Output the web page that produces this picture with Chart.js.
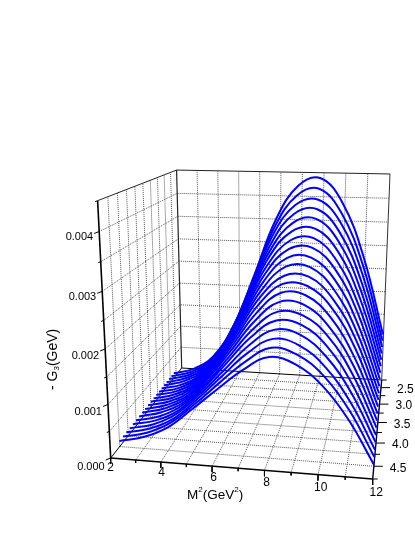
<!DOCTYPE html>
<html>
<head>
<meta charset="utf-8">
<title>G3 surface</title>
<script src="https://cdn.jsdelivr.net/npm/chart.js@4"></script>
<style>
html, body { margin: 0; padding: 0; background: #fff; }
canvas { display: block; }
</style>
</head>
<body>
<canvas id="surface" width="415" height="537"></canvas>
<script>
// values
const m2Values = [2, 3, 4, 5, 6, 7, 8, 9, 10, 11, 12];
const m2Grid = [2, 3, 4, 5, 6, 7, 8, 9, 10, 11, 12];
const m2Labels = [2, 4, 6, 8, 10, 12];
const sGrid = [2.25, 2.5, 2.75, 3, 3.25, 3.5, 3.75, 4, 4.25, 4.5, 4.75];
const sLabels = [2.5, 3, 3.5, 4, 4.5];
const gGrid = [0, 0.0005, 0.001, 0.0015, 0.002, 0.0025, 0.003, 0.0035, 0.004, 0.0045];
const gLabels = [0, 0.001, 0.002, 0.003, 0.004];
const sCurves = [2.6, 2.7, 2.8, 2.9, 3.0, 3.1, 3.2, 3.3, 3.4, 3.5, 3.6, 3.7, 3.8, 3.9, 4.0, 4.1, 4.2, 4.3, 4.4, 4.5];

// -G3 in units of 0.001 GeV, back curve first
const g01 = [.11, .24, .56, 1.28, 2.41, 3.60, 4.30, 4.46, 3.97, 2.88, 1.25];
const g02 = [.11, .24, .55, 1.25, 2.33, 3.47, 4.13, 4.27, 3.79, 2.75, 1.17];
const g03 = [.11, .24, .54, 1.22, 2.26, 3.35, 3.97, 4.08, 3.63, 2.62, 1.10];
const g04 = [.11, .24, .54, 1.19, 2.19, 3.22, 3.82, 3.92, 3.47, 2.49, 1.02];
const g05 = [.11, .24, .53, 1.17, 2.11, 3.10, 3.67, 3.76, 3.32, 2.37, .95];
const g06 = [.11, .23, .52, 1.14, 2.04, 2.99, 3.53, 3.60, 3.17, 2.25, .88];
const g07 = [.11, .23, .52, 1.11, 1.98, 2.87, 3.39, 3.45, 3.02, 2.13, .81];
const g08 = [.11, .23, .51, 1.09, 1.91, 2.76, 3.26, 3.30, 2.88, 2.02, .74];
const g09 = [.11, .23, .50, 1.06, 1.84, 2.65, 3.13, 3.15, 2.74, 1.90, .67];
const g10 = [.11, .23, .50, 1.04, 1.78, 2.54, 3.00, 3.01, 2.60, 1.79, .60];
const g11 = [.11, .23, .49, 1.01, 1.72, 2.44, 2.87, 2.87, 2.47, 1.69, .54];
const g12 = [.11, .23, .48, .99, 1.66, 2.34, 2.76, 2.74, 2.35, 1.59, .48];
const g13 = [.11, .23, .48, .97, 1.60, 2.24, 2.64, 2.61, 2.22, 1.48, .42];
const g14 = [.11, .23, .47, .95, 1.54, 2.14, 2.52, 2.48, 2.09, 1.38, .36];
const g15 = [.11, .22, .47, .92, 1.48, 2.04, 2.39, 2.34, 1.97, 1.28, .30];
const g16 = [.11, .22, .46, .90, 1.43, 1.95, 2.28, 2.22, 1.85, 1.18, .24];
const g17 = [.11, .22, .46, .88, 1.37, 1.86, 2.17, 2.10, 1.73, 1.09, .19];
const g18 = [.11, .22, .45, .86, 1.32, 1.77, 2.06, 1.97, 1.61, .99, .13];
const g19 = [.11, .22, .45, .84, 1.27, 1.68, 1.96, 1.86, 1.51, .91, .08];
const g20 = [.11, .22, .44, .82, 1.22, 1.60, 1.86, 1.75, 1.40, .82, .03];
const gCurves = [g01, g02, g03, g04, g05, g06, g07, g08, g09, g10, g11, g12, g13, g14, g15, g16, g17, g18, g19, g20];

// camera: where the box corners land on the page
const floorA = [110.7, 458], floorB = [372.7, 479], floorC = [381.7, 380], floorD = [181.7, 368];
const topLeft = [97.3, 200.7];
const zVanish = [260, 3396];
const m2Min = 2, m2Max = 12, sFront = 4.75, sBack = 2.25, gMax = 0.0045;

const dx1 = floorB[0] - floorC[0], dx2 = floorD[0] - floorC[0], sx = floorA[0] - floorB[0] + floorC[0] - floorD[0];
const dy1 = floorB[1] - floorC[1], dy2 = floorD[1] - floorC[1], sy = floorA[1] - floorB[1] + floorC[1] - floorD[1];
const den = dx1 * dy2 - dx2 * dy1;
const hg = (sx * dy2 - dx2 * sy) / den;
const hh = (dx1 * sy - sx * dy1) / den;
const ha = floorB[0] - floorA[0] + hg * floorB[0];
const hb = floorD[0] - floorA[0] + hh * floorD[0];
const hd = floorB[1] - floorA[1] + hg * floorB[1];
const he = floorD[1] - floorA[1] + hh * floorD[1];
const hk = (topLeft[1] - floorA[1]) / (zVanish[1] - topLeft[1]);

function project(m2, s, g) {
    const u = (m2 - m2Min) / (m2Max - m2Min);
    const v = (sFront - s) / (sFront - sBack);
    const z = g / gMax;
    const w = hg * u + hh * v + hk * z + 1;
    return {
        x: (ha * u + hb * v + hk * zVanish[0] * z + floorA[0]) / w,
        y: (hd * u + he * v + hk * zVanish[1] * z + floorA[1]) / w
    };
}

function shift(p, dx, dy) {
    return { x: p.x + dx, y: p.y + dy };
}

const datasets = [];

function addLine(points, color, width, dash, order) {
    datasets.push({
        data: points,
        showLine: true,
        pointRadius: 0,
        borderColor: color,
        borderWidth: width,
        borderDash: dash,
        tension: 0,
        order: order
    });
}

// curves
sCurves.forEach((s, i) => {
    const points = m2Values.map((m2, j) => project(m2, s, gCurves[i][j] / 1000));
    datasets.push({
        data: points,
        showLine: true,
        pointRadius: 0,
        borderColor: '#0000ff',
        borderWidth: 2,
        tension: 0.4,
        order: 1
    });
});

// floor grid
const gridColor = '#555555';
const gridDash = [1, 1];
m2Grid.slice(1, -1).forEach(m2 => {
    addLine([project(m2, sFront, 0), project(m2, sBack, 0)], gridColor, 1, gridDash, 3);
    addLine([project(m2, sBack, 0), project(m2, sBack, gMax)], gridColor, 1, gridDash, 3);
});
sGrid.slice(1, -1).forEach(s => {
    addLine([project(m2Min, s, 0), project(m2Max, s, 0)], gridColor, 1, gridDash, 3);
    addLine([project(m2Min, s, 0), project(m2Min, s, gMax)], gridColor, 1, gridDash, 3);
});
gGrid.slice(1, -1).forEach(g => {
    addLine([project(m2Min, sFront, g), project(m2Min, sBack, g), project(m2Max, sBack, g)], gridColor, 1, gridDash, 3);
});

// box edges
addLine([project(m2Min, sFront, gMax), project(m2Min, sBack, gMax), project(m2Max, sBack, gMax)], '#222222', 1, [], 2);
addLine([project(m2Min, sBack, 0), project(m2Min, sBack, gMax)], '#222222', 1.2, [], 2);
addLine([project(m2Max, sBack, 0), project(m2Max, sBack, gMax)], '#333333', 1, [], 2);
addLine([project(m2Min, sFront, 0), project(m2Min, sBack, 0), project(m2Max, sBack, 0)], '#000000', 1, [], 2);

// axes
addLine([project(m2Min, sFront, 0), project(m2Min, sFront, gMax)], '#000000', 1.6, [], 2);
addLine([project(m2Min, sFront, 0), project(m2Max, sFront, 0)], '#000000', 1.4, [], 2);
addLine([project(m2Max, sFront, 0), project(m2Max, sBack, 0)], '#000000', 1.4, [], 2);

// tick marks
gGrid.forEach(g => {
    const p = project(m2Min, sFront, g);
    const major = gLabels.includes(g);
    addLine([p, shift(p, major ? -5 : -2.5, major ? 2 : 1)], '#000000', 1, [], 2);
});
m2Grid.forEach(m2 => {
    const p = project(m2, sFront, 0);
    addLine([p, shift(p, 0, m2Labels.includes(m2) ? 6 : 3)], '#000000', 1, [], 2);
});
sGrid.forEach(s => {
    const p = project(m2Max, s, 0);
    addLine([p, shift(p, sLabels.includes(s) ? 9 : 5, 0)], '#000000', 1, [], 2);
});

// tick labels and axis titles
const axisText = {
    id: 'axisText',
    afterDraw(chart) {
        const ctx = chart.ctx;
        const xs = chart.scales.x, ys = chart.scales.y;
        const at = p => [xs.getPixelForValue(p.x), ys.getPixelForValue(p.y)];
        ctx.save();
        ctx.fillStyle = '#000000';
        ctx.textBaseline = 'middle';
        ctx.font = '11px "Liberation Sans"';

        ctx.textAlign = 'right';
        gLabels.forEach(g => {
            const [x, y] = at(project(m2Min, sFront, g));
            ctx.fillText(g.toFixed(3), x - 6, y + 5 + (0.004 - g) * 1000);
        });

        ctx.font = '12px "Liberation Sans"';
        ctx.textAlign = 'center';
        m2Labels.forEach(m2 => {
            const [x, y] = at(project(m2, sFront, 0));
            ctx.fillText(String(m2), x + (m2 - 2) * 0.35, y + 10 + (m2 - 2) * 0.4);
        });

        ctx.textAlign = 'left';
        sLabels.forEach(s => {
            const [x, y] = at(project(m2Max, s, 0));
            ctx.fillText(s.toFixed(1), x + 16, y + 2);
        });

        // M2(GeV2) with superscripts
        let x = 187;
        const parts = [['M', 13.5, 0], ['2', 8, -5], ['(GeV', 13.5, 0], ['2', 8, -5], [')', 13.5, 0]];
        parts.forEach(part => {
            ctx.font = part[1] + 'px "Liberation Sans"';
            ctx.fillText(part[0], x, 495 + part[2]);
            x += ctx.measureText(part[0]).width;
        });

        // - G3(GeV) turned on its side
        ctx.translate(53, 390);
        ctx.rotate(-Math.PI / 2);
        x = 0;
        const yParts = [['- G', 14, 0], ['3', 8, 4], ['(GeV)', 14, 0]];
        yParts.forEach(part => {
            ctx.font = part[1] + 'px "Liberation Sans"';
            ctx.fillText(part[0], x, part[2]);
            x += ctx.measureText(part[0]).width;
        });
        ctx.restore();
    }
};

new Chart(document.getElementById('surface').getContext('2d'), {
    type: 'scatter',
    data: { datasets: datasets },
    options: {
        responsive: false,
        animation: false,
        layout: { padding: 0 },
        scales: {
            x: { type: 'linear', min: 0, max: 415, display: false },
            y: { type: 'linear', min: 0, max: 537, reverse: true, display: false }
        },
        plugins: {
            legend: { display: false },
            tooltip: { enabled: false }
        }
    },
    plugins: [axisText]
});
</script>
</body>
</html>
